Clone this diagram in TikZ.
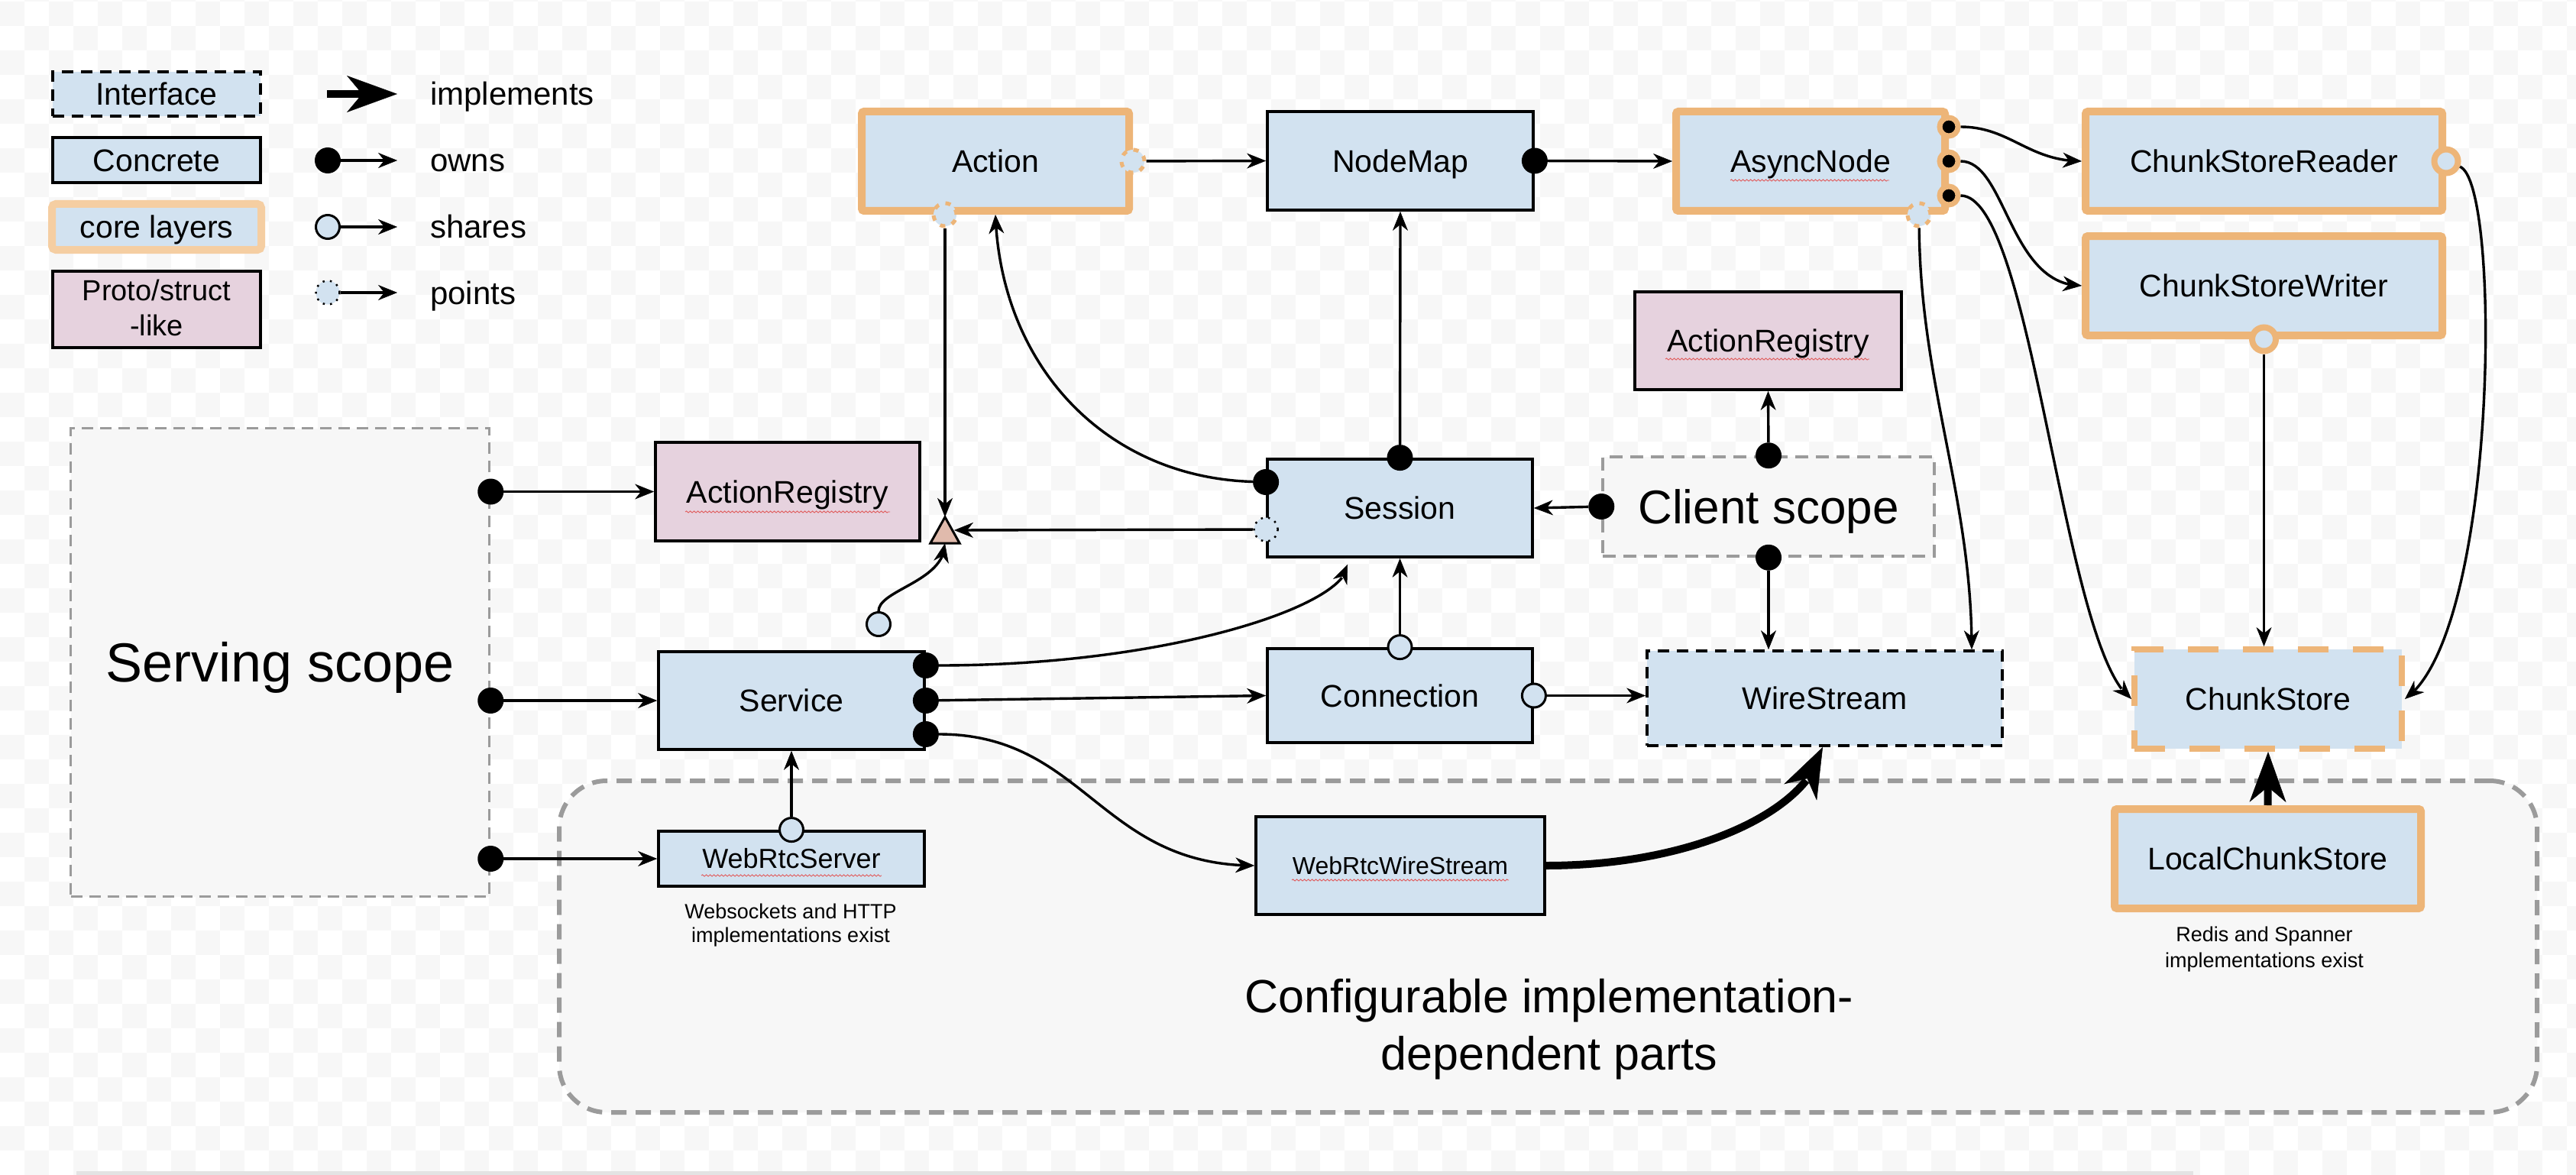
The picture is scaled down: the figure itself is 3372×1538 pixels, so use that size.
\documentclass[tikz,border=0pt]{standalone}
\usepackage{fontspec}
\setmainfont{Liberation Sans}
\usetikzlibrary{arrows.meta,bending,decorations.pathmorphing}
\definecolor{lblue}{RGB}{210,226,240}
\definecolor{lpink}{RGB}{230,210,222}
\definecolor{orng}{RGB}{237,181,120}
\definecolor{lorng}{RGB}{245,206,162}
\definecolor{dgray}{RGB}{155,155,155}
\definecolor{sbg}{RGB}{247,247,247}
\definecolor{trif}{RGB}{224,186,172}
\definecolor{squigred}{RGB}{225,90,90}
\newcommand\fsz[1]{\fontsize{#1}{#1}\selectfont}
\begin{document}
\begin{tikzpicture}[x=1pt,y=-1pt,
  box/.style={draw=black, line width=3.8pt, fill=lblue, inner sep=0pt,
     font=\fsz{41}, text height=29.4pt, text depth=0pt},
  core/.style={box, draw=orng, line width=10pt, rounded corners=3pt},
  proto/.style={box, fill=lpink},
  iface/.style={box, dash pattern=on 15pt off 10pt},
  dstore/.style={box, draw=orng, line width=8pt, dash pattern=on 40pt off 32pt},
  scopebox/.style={draw=dgray, line width=3.5pt, dash pattern=on 15pt off 9pt, fill=sbg, inner sep=0pt, text depth=0pt},
  owns/.style={circle, fill=black, inner sep=0pt, minimum size=34pt},
  anring/.style={circle, draw=orng, line width=7pt, fill=black, inner sep=0pt, minimum size=24pt},
  shares/.style={circle, draw=black, line width=3pt, fill=lblue, inner sep=0pt, minimum size=31pt},
  sharesO/.style={circle, draw=orng, line width=8pt, fill=lblue, inner sep=0pt, minimum size=31pt},
  pts/.style={circle, draw=black, line width=2.5pt, dash pattern=on 2.5pt off 7pt, fill=lblue, inner sep=0pt, minimum size=31pt},
  ptsO/.style={circle, draw=orng, line width=5pt, dash pattern=on 7pt off 9pt, fill=lblue, inner sep=0pt, minimum size=30pt},
  conn/.style={line width=3.4pt, -{Stealth[length=25pt,width=20pt,inset=8pt,line width=0.5pt]}},
  impl/.style={line width=10pt, -{Stealth[length=66pt,width=48pt,inset=20pt,line width=0.5pt]}},
  capt/.style={font=\fsz{27}, anchor=base, inner sep=0pt},
  lgtext/.style={font=\fsz{42}, anchor=base west, inner sep=0pt},
  squig/.style={draw=squigred, line width=0.9pt, decorate, decoration={snake, segment length=5pt, amplitude=1.1pt}}
]
\useasboundingbox (0,0) rectangle (3372,1538);
% background checker
\fill[white] (0,0) rectangle (3372,1538);
\foreach \r in {0,...,48}{
  \pgfmathtruncatemacro{\off}{mod(\r+1,2)}
  \foreach \c in {0,...,52}{
    \fill[sbg] ({(2*\c+\off)*32},{\r*32-30}) rectangle ++(32,32);
  }
}
\fill[gray!22] (100,1533) rectangle (2871,1538);

% scopes
\node[draw=dgray, line width=6pt, dash pattern=on 20pt off 12pt, fill=sbg, rounded corners=62pt,
      minimum width=2589pt, minimum height=434pt, inner sep=0pt] (cfg) at (2026.5,1239) {};
\node[font=\fsz{61}, anchor=base, inner sep=0pt] (cfgt1) at (2028,1325) {Configurable implementation-};
\node[font=\fsz{61}, anchor=base, inner sep=0pt] (cfgt2) at (2028,1400) {dependent parts};
\node[scopebox, minimum width=548pt, minimum height=613pt, font=\fsz{72}, text height=51.6pt] (srv) at (366.5,867) {Serving scope};
\node[scopebox, minimum width=434pt, minimum height=130pt, font=\fsz{62}, text height=44.4pt, dash pattern=on 17pt off 10pt] (cli) at (2315,663) {Client scope};

% legend
\node[iface, minimum width=272pt, minimum height=58pt] (lgif) at (205,123) {Interface};
\node[box, minimum width=272pt, minimum height=59pt] (lgco) at (205,209.5) {Concrete};
\node[core, draw=lorng, minimum width=274pt, minimum height=60pt, rounded corners=5pt] (lgcl) at (205,297) {core layers};
\node[proto, minimum width=272pt, minimum height=100pt] (lgpr) at (205,405) {};
\node[font=\fsz{38}, anchor=base, inner sep=0pt] (lgpr1) at (205,393) {Proto/struct};
\node[font=\fsz{38}, anchor=base, inner sep=0pt] (lgpr2) at (205,439) {-like};
\coordinate (lgis) at (428,123); \coordinate (lgie) at (520,123);
\draw[impl] (lgis) -- (lgie);
\node[owns] (lgow) at (429,210) {}; \coordinate (lgowe) at (520,210);
\draw[conn] (lgow) -- (lgowe);
\node[shares] (lgsh) at (429,297) {}; \coordinate (lgshe) at (520,297);
\draw[conn] (lgsh) -- (lgshe);
\node[pts] (lgpt) at (429,383) {}; \coordinate (lgpte) at (520,383);
\draw[conn] (lgpt) -- (lgpte);
\node[lgtext] (lgt1) at (563,138) {implements};
\node[lgtext] (lgt2) at (563,225) {owns};
\node[lgtext] (lgt3) at (563,312) {shares};
\node[lgtext] (lgt4) at (563,398) {points};

% main nodes
\node[core, minimum width=350pt, minimum height=130pt] (act) at (1303,211) {Action};
\node[box, minimum width=348pt, minimum height=129pt] (nm) at (1833,210.5) {NodeMap};
\node[core, minimum width=352pt, minimum height=130pt] (an) at (2370,211) {AsyncNode};
\node[core, minimum width=467pt, minimum height=130pt] (csr) at (2963.5,211) {ChunkStoreReader};
\node[core, minimum width=467pt, minimum height=130pt] (csw) at (2963.5,374) {ChunkStoreWriter};
\node[proto, minimum width=349pt, minimum height=128pt] (arr) at (2314.5,446) {ActionRegistry};
\node[box, minimum width=347pt, minimum height=128pt] (ses) at (1832.5,665) {Session};
\node[box, minimum width=347pt, minimum height=123pt] (con) at (1832.5,910.5) {Connection};
\node[iface, minimum width=465pt, minimum height=124pt] (ws) at (2388.5,914) {WireStream};
\node[box, minimum width=348pt, minimum height=128pt] (svc) at (1036,917) {Service};
\node[proto, minimum width=346pt, minimum height=129pt] (arl) at (1031,643.5) {ActionRegistry};
\node[box, minimum width=348pt, minimum height=72pt, font=\fsz{36}, text height=25.8pt] (wrs) at (1036,1124) {WebRtcServer};
\node[box, minimum width=378pt, minimum height=128pt, font=\fsz{32}, text height=23pt] (wrw) at (1833,1133) {WebRtcWireStream};
\node[dstore, minimum width=350pt, minimum height=130pt] (cs) at (2969,915) {ChunkStore};
\node[core, minimum width=401pt, minimum height=130pt] (lcs) at (2968.5,1124) {LocalChunkStore};

\node[capt] (capa1) at (1035,1202) {Websockets and HTTP};
\node[capt] (capa2) at (1035,1233) {implementations exist};
\node[capt] (capb1) at (2964,1232) {Redis and Spanner};
\node[capt] (capb2) at (2964,1266) {implementations exist};

% spell-check squiggles
\draw[squig] (2265,236) -- (2473,236);
\draw[squig] (2180,470) -- (2447,470);
\draw[squig] (897,670) -- (1165,670);
\draw[squig] (918,1146) -- (1154,1146);
\draw[squig] (1691,1152) -- (1975,1152);

% triangle junction
\node[inner sep=0pt, minimum width=38pt, minimum height=34pt] (tri) at (1237,694) {};
\draw[line width=3pt, fill=trif, line join=miter] (tri.south west) -- (tri.south east) -- (tri.north) -- cycle;

% markers
\node[ptsO] (pacte) at (act.east) {};
\node[ptsO] (pacts) at ([xshift=-66pt]act.south) {};
\node[owns] (onm) at (nm.east) {};
\node[owns] (osesn) at (ses.north) {};
\node[owns] (osesw) at ([yshift=34pt]ses.west) {};
\node[pts] (psesw) at ([yshift=-28pt]ses.west) {};
\node[owns] (oclin) at (cli.north) {};
\node[owns] (oclis) at (cli.south) {};
\node[owns] (ocliw) at (cli.west) {};
\node[ptsO] (pans) at ([xshift=142pt]an.south) {};
\node[anring] (oan1) at ([yshift=45pt]an.east) {};
\node[anring] (oan2) at (an.east) {};
\node[anring] (oan3) at ([yshift=-45pt]an.east) {};
\node[sharesO] (scsr) at (csr.east) {};
\node[sharesO] (scsw) at (csw.south) {};
\node[shares] (sconn) at (con.north) {};
\node[shares] (scone) at (con.east) {};
\node[owns] (osvc1) at ([yshift=46pt]svc.east) {};
\node[owns] (osvc2) at (svc.east) {};
\node[owns] (osvc3) at ([yshift=-44pt]svc.east) {};
\node[shares] (swrs) at (wrs.north) {};
\node[owns] (osrv1) at (srv.east |- arl.west) {};
\node[owns] (osrv2) at (srv.east |- svc.west) {};
\node[owns] (osrv3) at (srv.east |- wrs.west) {};
\node[shares] (stri) at (1150,817) {};

% connectors
\draw[conn] (pacte) -- (nm.west);
\draw[conn] (onm) -- (an.west);
\draw[conn] (osesn) -- (nm.south);
\draw[conn] (osesw) .. controls +(-209,-6) and +(7,199) .. (act.south);
\draw[conn] (pacts) -- (tri.north);
\draw[conn] (psesw) -- ([xshift=12pt]tri.center);
\draw[conn] (stri) .. controls +(0,-45) and +(0,50) .. (tri.south);
\draw[conn] (sconn) -- (ses.south);
\draw[conn] (scone) -- (scone -| ws.west);
\draw[conn] (osvc2) -- (con.west);
\draw[conn] (osvc1) .. controls +(320,0) and +(0,53) .. ([xshift=-68.5pt,yshift=-8pt]ses.south);
\draw[conn] (osvc3) .. controls +(208,0) and +(-202,0) .. (wrw.west);
\draw[conn] (swrs) -- (svc.south);
\draw[conn] (osrv1) -- (arl.west);
\draw[conn] (osrv2) -- (svc.west);
\draw[conn] (osrv3) -- (wrs.west);
\draw[conn] (oclin) -- (arr.south);
\draw[conn] (ocliw) -- (ses.east);
\draw[conn] (oclis) -- (oclis |- ws.north);
\draw[conn] (oan1) .. controls +(80,0) and +(-70,0) .. (csr.west);
\draw[conn] (oan2) .. controls +(75,0) and +(-95,0) .. (csw.west);
\draw[conn] (oan3) .. controls +(110,0) and +(-90,-65) .. (cs.west);
\draw[conn] (pans) .. controls +(2,224) and +(0,-200) .. ([xshift=192.5pt]ws.north);
\draw[conn] (scsr) .. controls +(73,29) and +(122,-85) .. (cs.east);
\draw[conn] (scsw) -- (scsw |- cs.north);
\draw[impl] (lcs.north) -- (cs.south);
\draw[impl] (wrw.east) .. controls +(196,0) and +(-16,82) .. ([xshift=-2.5pt]ws.south);
\end{tikzpicture}
\end{document}
